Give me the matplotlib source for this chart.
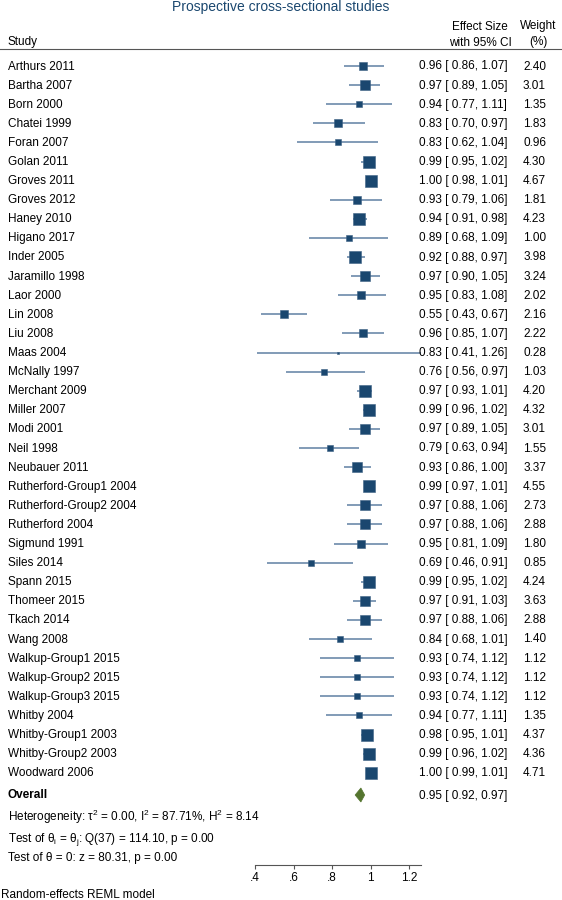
import matplotlib
matplotlib.use("Agg")
import matplotlib.pyplot as plt
import matplotlib.transforms as mtransforms
from matplotlib.patches import Polygon

plt.rcParams['font.family'] = ['Liberation Sans', 'DejaVu Sans']
plt.rcParams['mathtext.fontset'] = 'custom'
plt.rcParams['mathtext.rm'] = 'Liberation Sans'
plt.rcParams['mathtext.it'] = 'Liberation Sans:italic'

studies = ["Arthurs 2011", "Bartha 2007", "Born 2000", "Chatei 1999", "Foran 2007",
           "Golan 2011", "Groves 2011", "Groves 2012", "Haney 2010", "Higano 2017",
           "Inder 2005", "Jaramillo 1998", "Laor 2000", "Lin 2008", "Liu 2008",
           "Maas 2004", "McNally 1997", "Merchant 2009", "Miller 2007", "Modi 2001",
           "Neil 1998", "Neubauer 2011", "Rutherford-Group1 2004", "Rutherford-Group2 2004",
           "Rutherford 2004", "Sigmund 1991", "Siles 2014", "Spann 2015", "Thomeer 2015",
           "Tkach 2014", "Wang 2008", "Walkup-Group1 2015", "Walkup-Group2 2015",
           "Walkup-Group3 2015", "Whitby 2004", "Whitby-Group1 2003", "Whitby-Group2 2003",
           "Woodward 2006"]
effect = [0.96, 0.97, 0.94, 0.83, 0.83, 0.99, 1.00, 0.93, 0.94, 0.89,
          0.92, 0.97, 0.95, 0.55, 0.96, 0.83, 0.76, 0.97, 0.99, 0.97,
          0.79, 0.93, 0.99, 0.97, 0.97, 0.95, 0.69, 0.99, 0.97, 0.97,
          0.84, 0.93, 0.93, 0.93, 0.94, 0.98, 0.99, 1.00]
ci_low = [0.86, 0.89, 0.77, 0.70, 0.62, 0.95, 0.98, 0.79, 0.91, 0.68,
          0.88, 0.90, 0.83, 0.43, 0.85, 0.41, 0.56, 0.93, 0.96, 0.89,
          0.63, 0.86, 0.97, 0.88, 0.88, 0.81, 0.46, 0.95, 0.91, 0.88,
          0.68, 0.74, 0.74, 0.74, 0.77, 0.95, 0.96, 0.99]
ci_high = [1.07, 1.05, 1.11, 0.97, 1.04, 1.02, 1.01, 1.06, 0.98, 1.09,
           0.97, 1.05, 1.08, 0.67, 1.07, 1.26, 0.97, 1.01, 1.02, 1.05,
           0.94, 1.00, 1.01, 1.06, 1.06, 1.09, 0.91, 1.02, 1.03, 1.06,
           1.01, 1.12, 1.12, 1.12, 1.11, 1.01, 1.02, 1.01]
weights = [2.40, 3.01, 1.35, 1.83, 0.96, 4.30, 4.67, 1.81, 4.23, 1.00,
           3.98, 3.24, 2.02, 2.16, 2.22, 0.28, 1.03, 4.20, 4.32, 3.01,
           1.55, 3.37, 4.55, 2.73, 2.88, 1.80, 0.85, 4.24, 3.63, 2.88,
           1.40, 1.12, 1.12, 1.12, 1.35, 4.37, 4.36, 4.71]
overall = (0.95, 0.92, 0.97)
xticks = [0.4, 0.6, 0.8, 1.0, 1.2]
xticklabels = [".4", ".6", ".8", "1", "1.2"]
title = "Prospective cross-sectional studies"
het_lines = ["Heterogeneity: τ$^2$ = 0.00, I$^2$ = 87.71%, H$^2$ = 8.14",
             r"Test of θ$_\mathrm{i}$ = θ$_\mathrm{j}$: Q(37) = 114.10, p = 0.00",
             "Test of θ = 0: z = 80.31, p = 0.00"]
note = "Random-effects REML model"

W, H = 562, 900
NAVY = "#1a476f"
LINE = "#5f80a3"
GREEN = "#55752f"
FS = 8.5

fig = plt.figure(figsize=(W / 100, H / 100), dpi=100)
ax = fig.add_axes([0, 0, 1, 1])
# x mapping: 0.4 -> 255 px, 1.2 -> 409 px
scale = (409 - 255) / 0.8
ax.set_xlim(0.4 - 255 / scale, 0.4 + (W - 255) / scale)
ax.set_ylim(H, 0)
for s in ["top", "left", "right"]:
    ax.spines[s].set_visible(False)
ax.set_yticks([])
ax.spines["bottom"].set_position(("data", 865))
ax.spines["bottom"].set_bounds(0.4, 1.26)
ax.spines["bottom"].set_color("#555555")
ax.spines["bottom"].set_linewidth(0.8)
ax.set_xticks(xticks)
ax.set_xticklabels(xticklabels)
ax.tick_params(axis="x", direction="out", length=3, width=0.8, color="#555555",
               labelsize=FS, pad=2)
ax.patch.set_visible(False)

tr = mtransforms.blended_transform_factory(ax.transAxes, ax.transData)

y0, dy = 66, 19.1
rows = [y0 + dy * i for i in range(len(studies))]
BL = 3.5  # baseline offset from row centre, px

for i, name in enumerate(studies):
    y = rows[i]
    ax.plot([ci_low[i], ci_high[i]], [y, y], color=LINE, lw=1.1, solid_capstyle="butt", zorder=2)
    ax.plot([effect[i]], [y], marker="s", color=NAVY, ms=4.0 * weights[i] ** 0.5,
            mec="#3d6285", mew=0.4, zorder=3)
    ax.text(8 / W, y + BL, name, transform=tr, fontsize=FS, va="baseline", ha="left")
    ax.text(419 / W, y + BL, f"{effect[i]:.2f} [ {ci_low[i]:.2f}, {ci_high[i]:.2f}]",
            transform=tr, fontsize=FS, va="baseline", ha="left")
    ax.text(546 / W, y + BL, f"{weights[i]:.2f}", transform=tr, fontsize=FS,
            va="baseline", ha="right")

# Overall
yo = 795
es, lo, hi = overall
dia = Polygon([(lo, yo), (es, yo - 7), (hi, yo), (es, yo + 7)], closed=True,
              facecolor=GREEN, edgecolor=GREEN, lw=0.5, zorder=3)
ax.add_patch(dia)
ax.text(8 / W, yo + BL, "Overall", transform=tr, fontsize=FS, va="baseline", ha="left",
        fontweight="bold")
ax.text(419 / W, yo + BL, f"{es:.2f} [ {lo:.2f}, {hi:.2f}]", transform=tr, fontsize=FS,
        va="baseline", ha="left")

for k, (t, yy) in enumerate(zip(het_lines, [817, 838, 857])):
    ax.text(8 / W, yy + BL, t, transform=tr, fontsize=FS, va="baseline", ha="left")

ax.text(1 / W, 894 + BL, note, transform=tr, fontsize=FS, va="baseline", ha="left")

# Header
ax.text(0.5, 7, title, transform=tr, fontsize=10, color=NAVY, ha="center", va="center")
ax.text(8 / W, 41 + BL, "Study", transform=tr, fontsize=FS, va="baseline", ha="left")
ax.text(480 / W, 26 + BL, "Effect Size", transform=tr, fontsize=FS, va="baseline", ha="center")
ax.text(480 / W, 42 + BL, "with 95% CI", transform=tr, fontsize=FS, va="baseline", ha="center")
ax.text(538 / W, 26 + BL, "Weight", transform=tr, fontsize=FS, va="baseline", ha="center")
ax.text(538 / W, 42 + BL, "(%)", transform=tr, fontsize=FS, va="baseline", ha="center")
ax.plot([0, 1], [48.5, 48.5], transform=tr, color="#555555", lw=0.8, clip_on=False)

fig.savefig("out.png", dpi=100, facecolor="white")
